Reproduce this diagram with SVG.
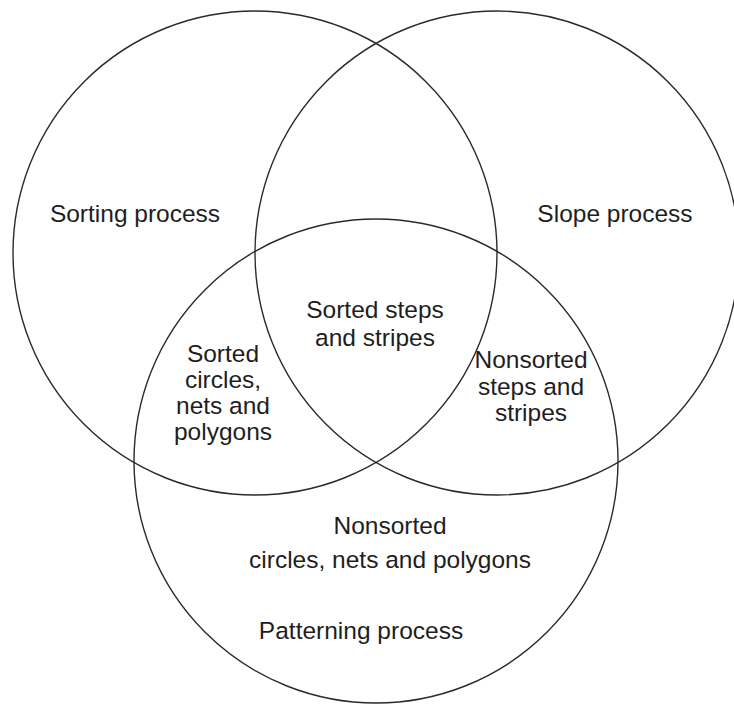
<svg xmlns="http://www.w3.org/2000/svg" width="734" height="706" viewBox="0 0 734 706">
<style>
.c{fill:none;stroke:#2a2a2a;stroke-width:1.4}
text{font-family:"Liberation Sans",Arial,sans-serif;font-size:24.5px;fill:#1e1e1e;text-anchor:middle}
</style>
<rect width="734" height="706" fill="#fff"/>
<g id="sorting">
<circle class="c" cx="255" cy="253" r="242"/>
<text x="135" y="222">Sorting process</text>
</g>
<g id="slope">
<circle class="c" cx="497" cy="253" r="242"/>
<text x="615" y="222">Slope process</text>
</g>
<g id="patterning">
<circle class="c" cx="376" cy="461" r="242"/>
<text x="361" y="639">Patterning process</text>
</g>
<g id="sorted-steps">
<text x="375" y="318">Sorted steps</text>
<text x="375" y="346">and stripes</text>
</g>
<g id="sorted-circles">
<text x="223" y="362">Sorted</text>
<text x="223" y="388">circles,</text>
<text x="223" y="414">nets and</text>
<text x="223" y="440">polygons</text>
</g>
<g id="nonsorted-steps">
<text x="531" y="368">Nonsorted</text>
<text x="531" y="395">steps and</text>
<text x="531" y="421">stripes</text>
</g>
<g id="nonsorted-circles">
<text x="390" y="534">Nonsorted</text>
<text x="390" y="568">circles, nets and polygons</text>
</g>
<g id="connectors"></g>
</svg>
